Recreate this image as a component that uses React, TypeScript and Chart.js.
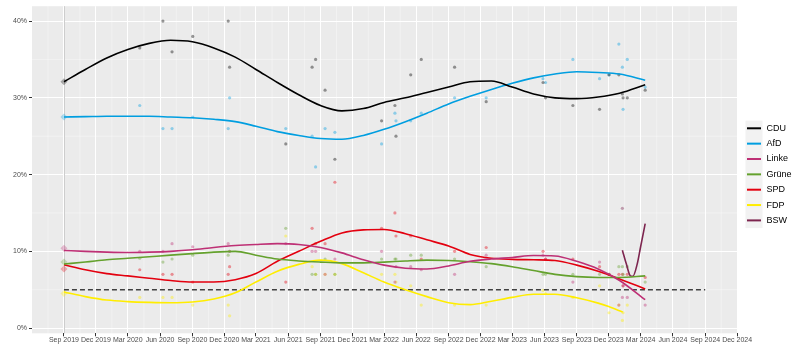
import React, { useEffect, useRef } from 'react';
import { Chart, registerables } from 'chart.js';

Chart.register(...registerables);

const FONT = '"Liberation Sans", Arial, Helvetica, sans-serif';

const PARTIES = ['CDU', 'AfD', 'Linke', 'Grüne', 'SPD', 'FDP', 'BSW'];
const PARTY_COLORS = ['#000000', '#009EE0', '#BE3075', '#64A12D', '#E3000F', '#FFED00', '#7D254F'];

const X_TICK_DATES = [
  '2019-09-01', '2019-12-01', '2020-03-01', '2020-06-01', '2020-09-01', '2020-12-01',
  '2021-03-01', '2021-06-01', '2021-09-01', '2021-12-01', '2022-03-01', '2022-06-01',
  '2022-09-01', '2022-12-01', '2023-03-01', '2023-06-01', '2023-09-01', '2023-12-01',
  '2024-03-01', '2024-06-01', '2024-09-01', '2024-12-01',
];
const X_TICK_LABELS = [
  'Sep 2019', 'Dec 2019', 'Mar 2020', 'Jun 2020', 'Sep 2020', 'Dec 2020',
  'Mar 2021', 'Jun 2021', 'Sep 2021', 'Dec 2021', 'Mar 2022', 'Jun 2022',
  'Sep 2022', 'Dec 2022', 'Mar 2023', 'Jun 2023', 'Sep 2023', 'Dec 2023',
  'Mar 2024', 'Jun 2024', 'Sep 2024', 'Dec 2024',
];
const Y_TICKS = [0, 10, 20, 30, 40];
const Y_MINOR_TICKS = [5, 15, 25, 35];
const X_RANGE = ['2019-06-02', '2024-12-02'];
const Y_RANGE = [-0.68, 41.94];

const ELECTION_DATE = '2019-09-01';
const NEXT_ELECTION_DATE = '2024-09-01';
const THRESHOLD = 5;
const ELECTION_RESULT = [32.1, 27.5, 10.4, 8.6, 7.7, 4.5, null];

// smoothed trend lines
const TREND_DATES = [
  '2019-09-01', '2019-11-01', '2020-01-01', '2020-03-01', '2020-05-01', '2020-07-01', '2020-09-01',
  '2020-11-01', '2021-01-01', '2021-03-01', '2021-05-01', '2021-07-01', '2021-09-01', '2021-11-01',
  '2022-01-01', '2022-03-01', '2022-05-01', '2022-07-01', '2022-09-01', '2022-11-01', '2023-01-01',
  '2023-03-01', '2023-05-01', '2023-07-01', '2023-09-01', '2023-11-01', '2024-01-01', '2024-03-14',
];
const CDU_TREND = [32.1, 33.7, 35.2, 36.3, 37.1, 37.5, 37.3, 36.5, 35.3, 33.7, 32.0, 30.4, 29.0, 28.3, 28.6, 29.4, 30.0, 30.7, 31.4, 32.1, 32.2, 31.4, 30.5, 30.0, 29.9, 30.1, 30.6, 31.7];
const AFD_TREND = [27.5, 27.55, 27.6, 27.6, 27.6, 27.5, 27.4, 27.2, 26.9, 26.3, 25.6, 25.1, 24.7, 24.6, 25.1, 25.9, 26.9, 28.0, 29.2, 30.2, 31.1, 31.9, 32.6, 33.1, 33.4, 33.3, 33.1, 32.3];
const LINKE_TREND = [10.1, 10.0, 9.9, 9.85, 9.9, 10.0, 10.2, 10.5, 10.75, 10.9, 11.0, 10.9, 10.5, 9.8, 8.9, 8.2, 7.8, 7.7, 8.1, 8.7, 9.0, 9.2, 9.45, 9.4, 8.7, 7.7, 6.2, 3.7];
const GRUENE_TREND = [8.35, 8.6, 8.9, 9.1, 9.3, 9.5, 9.7, 9.9, 10.0, 9.5, 9.0, 8.75, 8.6, 8.5, 8.5, 8.6, 8.75, 8.85, 8.8, 8.65, 8.4, 8.0, 7.5, 7.0, 6.7, 6.6, 6.6, 6.8];
const SPD_TREND = [8.26, 7.6, 7.1, 6.8, 6.5, 6.2, 6.0, 6.0, 6.3, 7.1, 8.7, 10.0, 11.3, 12.4, 12.8, 12.85, 12.3, 11.5, 10.7, 9.6, 9.1, 8.95, 8.9, 8.8, 8.2, 7.4, 6.4, 5.1];
const FDP_TREND_DATES = [
  '2019-09-01', '2019-11-01', '2020-01-01', '2020-03-01', '2020-05-01', '2020-07-01', '2020-09-01',
  '2020-11-01', '2021-01-01', '2021-03-01', '2021-05-01', '2021-07-01', '2021-09-01', '2021-11-01',
  '2022-01-01', '2022-03-01', '2022-05-01', '2022-07-01', '2022-09-01', '2022-11-01', '2023-01-01',
  '2023-03-01', '2023-05-01', '2023-07-01', '2023-09-01', '2023-11-01', '2023-12-01', '2024-01-10',
];
const FDP_TREND = [4.7, 4.1, 3.65, 3.45, 3.35, 3.3, 3.4, 3.8, 4.6, 6.0, 7.4, 8.3, 8.85, 8.4, 7.2, 6.0, 5.0, 4.1, 3.3, 3.05, 3.5, 4.0, 4.4, 4.4, 3.95, 3.25, 2.8, 2.1];
const BSW_TREND_DATES = ['2024-01-09', '2024-01-20', '2024-02-01', '2024-02-08', '2024-02-20', '2024-03-01', '2024-03-14'];
const BSW_TREND = [10.15, 8.4, 6.8, 6.75, 8.3, 10.6, 13.6];

// individual polls (faint dots)
const POLL_DATES = [
  '2020-04-04', '2020-06-09', '2020-07-05', '2020-09-02', '2020-12-12', '2020-12-16', '2021-05-25',
  '2021-08-08', '2021-08-18', '2021-09-14', '2021-10-12', '2022-02-22', '2022-04-01', '2022-04-04',
  '2022-05-16', '2022-06-15', '2022-09-18', '2022-12-17', '2023-05-28', '2023-06-04', '2023-08-21',
  '2023-11-05', '2023-12-02', '2023-12-30', '2024-01-09', '2024-01-11', '2024-01-23', '2024-03-14',
];
const CDU_POLLS = [36.5, 40, 36, 38, 40, 34, 24, 34, 35, 31, 22, 27, 29, 25, 33, 35, 34, 29.5, 32, 30, 29, 28.5, 33, 33, 30.5, 30, 30, 31];
const AFD_POLLS = [29, 26, 26, 27.5, 26, 30, 26, 25, 21, 26, 25.5, 24, 28, 27, 27, 28, 30, 30, 32.5, 32, 35, 32.5, 33, 37, 34, 28.5, 35, 31.4];
const LINKE_POLLS = [10, 10, 11, 10.6, 11, 10, 11, 10, 10, 7, 9, 10, 6, 8, 8, 7.6, 7, 9.5, 9.5, 9, 6, 8.6, 7, 3, 4, 5.5, 4, 3];
const GRUENE_POLLS = [9.1, 8.6, 9, 9.5, 9.5, 10, 13, 7, 7, 9, 7, 9, 9, 9, 9.5, 9.5, 9, 8, 7, 7, 7, 7, 7, 8, 8, 7, 8, 6];
const SPD_POLLS = [7.6, 7, 7, 6, 7, 8, 6, 13, 11, 11, 19, 13, 15, 12, 12, 9, 10, 10.5, 10, 9, 9, 8, 7, 7, 7, 5.5, 7, 6.6];
const FDP_POLLS = [4, 4, 4, 3, 3, 1.6, 12, 8, 7, 7, 7, 7, 7, 6, 5.5, 3, 3, 3, 4.9, 4.5, 4, 5.5, 2, 3, 1, 2, 3, null];
const BSW_POLLS = [null, null, null, null, null, null, null, null, null, null, null, null, null, null, null, null, null, null, null, null, null, null, null, null, 15.6, null, null, null];

const day = (s: string) =>
  Math.round(Date.UTC(+s.slice(0, 4), +s.slice(5, 7) - 1, +s.slice(8, 10)) / 86400000);

const rgba = (hex: string, a: number) => {
  const n = parseInt(hex.slice(1), 16);
  return `rgba(${(n >> 16) & 255},${(n >> 8) & 255},${n & 255},${a})`;
};

const pairs = (dates: string[], vals: (number | null)[]) =>
  dates.map((d, i) => ({ x: day(d), y: vals[i] })).filter((p) => p.y !== null && p.y !== undefined);

const TRENDS: [string[], number[]][] = [
  [TREND_DATES, CDU_TREND],
  [TREND_DATES, AFD_TREND],
  [TREND_DATES, LINKE_TREND],
  [TREND_DATES, GRUENE_TREND],
  [TREND_DATES, SPD_TREND],
  [FDP_TREND_DATES, FDP_TREND],
  [BSW_TREND_DATES, BSW_TREND],
];
const POLLS = [CDU_POLLS, AFD_POLLS, LINKE_POLLS, GRUENE_POLLS, SPD_POLLS, FDP_POLLS, BSW_POLLS];

const panelPlugin = {
  id: 'panel',
  beforeDraw(chart: any) {
    const { ctx, chartArea: a, scales } = chart;
    const xs = scales.x;
    const ys = scales.y;
    ctx.save();
    ctx.fillStyle = '#EBEBEB';
    ctx.fillRect(a.left, a.top, a.right - a.left, a.bottom - a.top);
    ctx.strokeStyle = 'rgba(255,255,255,0.6)';
    ctx.lineWidth = 0.6;
    Y_MINOR_TICKS.forEach((v) => {
      const y = ys.getPixelForValue(v);
      ctx.beginPath();
      ctx.moveTo(a.left, y);
      ctx.lineTo(a.right, y);
      ctx.stroke();
    });
    const tv = X_TICK_DATES.map(day);
    const mids: number[] = [tv[0] - (tv[1] - tv[0]) / 2];
    for (let i = 0; i < tv.length - 1; i++) mids.push((tv[i] + tv[i + 1]) / 2);
    mids.forEach((v) => {
      const x = xs.getPixelForValue(v);
      if (x < a.left || x > a.right) return;
      ctx.beginPath();
      ctx.moveTo(x, a.top);
      ctx.lineTo(x, a.bottom);
      ctx.stroke();
    });
    ctx.restore();
  },
  beforeDatasetsDraw(chart: any) {
    const { ctx, chartArea: a, scales } = chart;
    const x = Math.round(scales.x.getPixelForValue(day(ELECTION_DATE))) + 0.5;
    ctx.save();
    ctx.strokeStyle = '#CDCDCD';
    ctx.lineWidth = 1;
    ctx.beginPath();
    ctx.moveTo(x, a.top);
    ctx.lineTo(x, a.bottom);
    ctx.stroke();
    ctx.restore();
  },
  afterDraw(chart: any) {
    const { ctx, chartArea: a } = chart;
    const x0 = a.right + 8;
    const keyW = 17;
    const rowH = 15.35;
    const yc0 = 128.3;
    ctx.save();
    ctx.fillStyle = '#F2F2F2';
    ctx.fillRect(x0, yc0 - rowH / 2, keyW, rowH * PARTIES.length);
    PARTIES.forEach((p, i) => {
      const yc = yc0 + i * rowH;
      ctx.strokeStyle = PARTY_COLORS[i];
      ctx.lineWidth = 2;
      ctx.beginPath();
      ctx.moveTo(x0 + 1.5, yc);
      ctx.lineTo(x0 + keyW - 1.5, yc);
      ctx.stroke();
      ctx.fillStyle = '#000000';
      ctx.font = `9px ${FONT}`;
      ctx.textBaseline = 'middle';
      ctx.textAlign = 'left';
      ctx.fillText(p, x0 + keyW + 4, yc);
    });
    ctx.restore();
  },
};

export default function App() {
  const ref = useRef<HTMLCanvasElement | null>(null);

  useEffect(() => {
    if (!ref.current) return;
    const datasets: any[] = [];
    TRENDS.forEach(([dates, vals], i) => {
      datasets.push({
        data: pairs(dates, vals),
        borderColor: PARTY_COLORS[i],
        borderWidth: 1.6,
        pointRadius: 0,
        fill: false,
        cubicInterpolationMode: 'monotone',
      });
    });
    datasets.push({
      data: [
        { x: day(ELECTION_DATE), y: THRESHOLD },
        { x: day(NEXT_ELECTION_DATE), y: THRESHOLD },
      ],
      borderColor: '#404040',
      borderWidth: 1.5,
      borderDash: [5, 3],
      pointRadius: 0,
      fill: false,
    });
    POLLS.forEach((vals, i) => {
      datasets.push({
        data: pairs(POLL_DATES, vals),
        showLine: false,
        pointRadius: 1.6,
        pointBorderWidth: 0,
        pointBackgroundColor: rgba(PARTY_COLORS[i], 0.4),
        pointBorderColor: 'rgba(0,0,0,0)',
      });
    });
    ELECTION_RESULT.forEach((v, i) => {
      if (v === null) return;
      datasets.push({
        data: [{ x: day(ELECTION_DATE), y: v }],
        showLine: false,
        pointStyle: 'rectRot',
        pointRadius: 3.5,
        pointBorderWidth: 0,
        pointBackgroundColor: rgba(PARTY_COLORS[i], 0.3),
        pointBorderColor: 'rgba(0,0,0,0)',
      });
    });

    const chart = new Chart(ref.current, {
      type: 'line',
      data: { datasets },
      plugins: [panelPlugin],
      options: {
        animation: false,
        responsive: false,
        devicePixelRatio: 1,
        events: [],
        layout: { padding: { left: 0, top: 3, right: 62.5, bottom: 0 } },
        plugins: { legend: { display: false }, tooltip: { enabled: false } },
        scales: {
          x: {
            type: 'linear',
            min: day(X_RANGE[0]),
            max: day(X_RANGE[1]),
            afterBuildTicks: (s: any) => {
              s.ticks = X_TICK_DATES.map((d) => ({ value: day(d) }));
            },
            afterFit: (s: any) => {
              s.height = 22.7;
            },
            ticks: {
              autoSkip: false,
              maxRotation: 0,
              minRotation: 0,
              padding: 0,
              color: '#4D4D4D',
              font: { size: 7, family: FONT },
              callback: (_v: any, i: number) => X_TICK_LABELS[i],
            },
            grid: { color: '#FFFFFF', lineWidth: 1, tickColor: '#333333', tickLength: 3 },
            border: { display: false },
          },
          y: {
            type: 'linear',
            min: Y_RANGE[0],
            max: Y_RANGE[1],
            afterBuildTicks: (s: any) => {
              s.ticks = Y_TICKS.map((v) => ({ value: v }));
            },
            afterFit: (s: any) => {
              s.width = 32;
            },
            ticks: {
              padding: 2,
              color: '#4D4D4D',
              font: { size: 7, family: FONT },
              callback: (v: any) => `${v}%`,
            },
            grid: { color: '#FFFFFF', lineWidth: 1, tickColor: '#333333', tickLength: 3 },
            border: { display: false },
          },
        },
      } as any,
    });
    return () => chart.destroy();
  }, []);

  return (
    <div style={{ position: 'fixed', left: 0, top: 0, width: 800, height: 356, background: '#FFFFFF' }}>
      <canvas ref={ref} width={800} height={356} style={{ display: 'block' }} />
    </div>
  );
}
